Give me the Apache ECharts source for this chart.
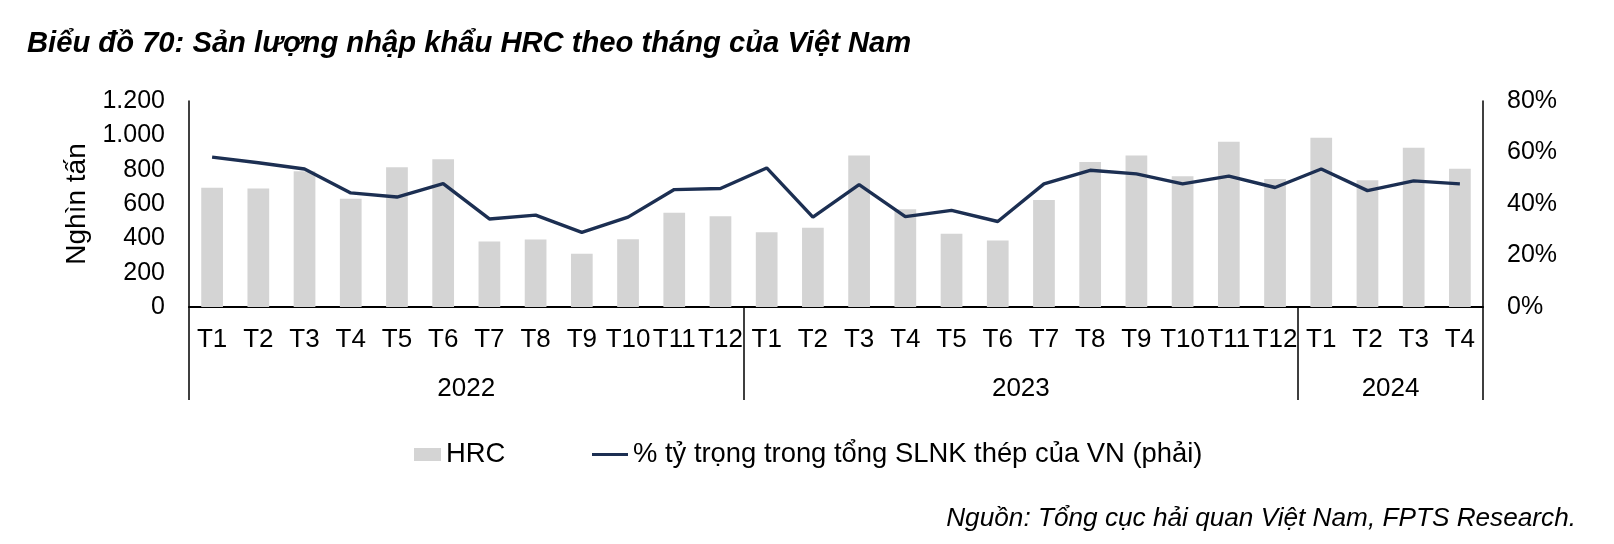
<!DOCTYPE html>
<html>
<head>
<meta charset="utf-8">
<script src="https://cdn.jsdelivr.net/npm/echarts@6/dist/echarts.min.js"></script>
<style>
html,body{margin:0;padding:0;background:#fff;}
#chart{width:1614px;height:544px;}
</style>
</head>
<body>
<div id="chart"></div>
<script>
// ---- Data ----
const months = ['T1','T2','T3','T4','T5','T6','T7','T8','T9','T10','T11','T12',
                'T1','T2','T3','T4','T5','T6','T7','T8','T9','T10','T11','T12',
                'T1','T2','T3','T4'];
const years = ['2022','2023','2024'];
const yearMonthCounts = [12, 12, 4];
const hrcImports = [695,690,791,631,814,861,382,393,310,394,549,528,
                    436,462,883,569,427,388,623,845,883,762,962,746,
                    986,738,927,806];
const hrcSharePct = [58.2,56.0,53.6,44.3,42.7,47.9,34.2,35.7,29.0,34.9,45.6,46.0,
                     54.0,34.9,47.5,35.1,37.5,33.2,47.8,53.1,51.7,47.8,50.8,46.4,
                     53.6,45.2,49.0,47.8];
const leftTicks = [0,200,400,600,800,1000,1200];
const rightTicks = [0,20,40,60,80];
const barName = 'HRC';
const lineName = '% tỷ trọng trong tổng SLNK thép của VN (phải)';
const titleText = 'Biểu đồ 70: Sản lượng nhập khẩu HRC theo tháng của Việt Nam';
const sourceText = 'Nguồn: Tổng cục hải quan Việt Nam, FPTS Research.';
const yAxisName = 'Nghìn tấn';

// year separators and label positions (in category units)
const sepPos = [0];
const yearMid = [];
{
  let acc = 0;
  yearMonthCounts.forEach(c => { yearMid.push(acc + c / 2); acc += c; sepPos.push(acc); });
}

const FONT = 'Liberation Sans, Arial, sans-serif';
const fsAxis = 25;
const fsCat = 26;
const fsLegend = 27.4;

const chart = echarts.init(document.getElementById('chart'), null, {renderer: 'canvas'});
chart.setOption({
  animation: false,
  backgroundColor: '#fff',
  textStyle: {fontFamily: FONT, color: '#000'},
  title: [
    {text: titleText, left: 22, top: 24,
     textStyle: {fontFamily: FONT, fontSize: 29.2, fontWeight: 'bold', fontStyle: 'italic', color: '#000'}},
    {text: sourceText, right: 33, top: 501,
     textStyle: {fontFamily: FONT, fontSize: 26.2, fontWeight: 'normal', fontStyle: 'italic', color: '#000'}}
  ],
  legend: [
    {data: [barName], left: 409, top: 436, itemWidth: 27, itemHeight: 13, itemGap: 0,
     icon: 'rect', textStyle: {fontFamily: FONT, fontSize: fsLegend, color: '#000'}},
    {data: [lineName], left: 587, top: 436, itemWidth: 36, itemHeight: 3, itemGap: 0,
     icon: 'rect', textStyle: {fontFamily: FONT, fontSize: fsLegend, color: '#000'}}
  ],
  grid: {left: 189, right: 131, top: 101, bottom: 237},
  xAxis: [
    {type: 'category', data: months, position: 'bottom',
     axisLine: {show: true, lineStyle: {color: '#000', width: 2}},
     axisTick: {show: false},
     axisLabel: {interval: 0, fontFamily: FONT, fontSize: fsCat, color: '#000', margin: 20, lineHeight: fsCat}},
    {type: 'value', min: 0, max: months.length, position: 'bottom',
     axisLine: {show: false},
     splitLine: {show: false},
     axisTick: {show: true, customValues: sepPos, length: 93, lineStyle: {color: '#000', width: 1.5}},
     axisLabel: {customValues: yearMid, fontFamily: FONT, fontSize: fsCat, color: '#000', margin: 69, lineHeight: fsCat,
       formatter: v => { const i = yearMid.indexOf(v); return i >= 0 ? years[i] : ''; }}}
  ],
  yAxis: [
    {type: 'value', min: leftTicks[0], max: leftTicks[leftTicks.length-1], interval: 200,
     name: yAxisName, nameLocation: 'middle', nameGap: 97, nameRotate: 90,
     nameTextStyle: {fontFamily: FONT, fontSize: 28, color: '#000'},
     axisLine: {show: true, lineStyle: {color: '#000', width: 1.5}},
     axisTick: {show: false}, splitLine: {show: false},
     axisLabel: {fontFamily: FONT, fontSize: fsAxis, color: '#000', margin: 24,
       formatter: v => v.toLocaleString('de-DE')}},
    {type: 'value', min: rightTicks[0], max: rightTicks[rightTicks.length-1], interval: 20,
     axisLine: {show: true, lineStyle: {color: '#000', width: 1.5}},
     axisTick: {show: false}, splitLine: {show: false},
     axisLabel: {fontFamily: FONT, fontSize: fsAxis, color: '#000', margin: 24, formatter: '{value}%'}}
  ],
  series: [
    {name: barName, type: 'bar', data: hrcImports, xAxisIndex: 0, yAxisIndex: 0,
     barWidth: '47%', itemStyle: {color: '#d4d4d4'}, z: 1},
    {name: lineName, type: 'line', data: hrcSharePct, xAxisIndex: 0, yAxisIndex: 1,
     showSymbol: false, symbol: 'none', lineStyle: {color: '#1c2f52', width: 3.4},
     itemStyle: {color: '#1c2f52'}, z: 3}
  ]
});
</script>
</body>
</html>
